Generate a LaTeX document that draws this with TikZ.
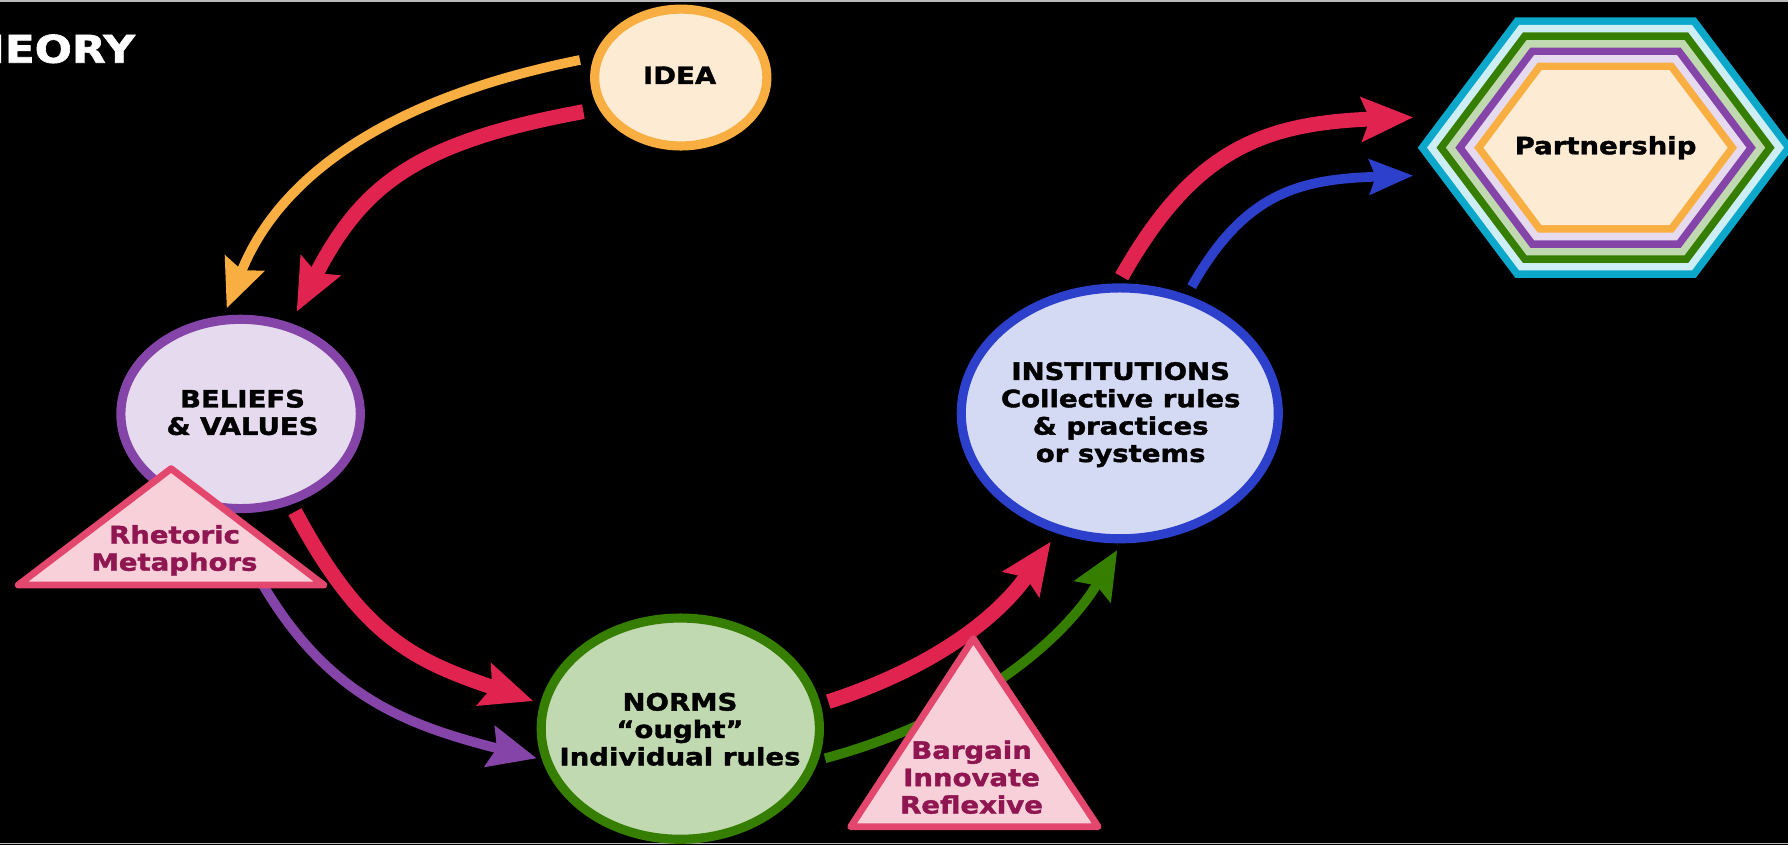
\documentclass[tikz,border=0pt]{standalone}
\usepackage{fontspec}
\setmainfont{DejaVu Sans}[FakeStretch=1.15, BoldFeatures={FakeBold=1.6}]
\usetikzlibrary{arrows.meta,shapes.geometric}
\definecolor{ideaFill}{HTML}{FDEBD4}
\definecolor{ideaLine}{HTML}{F9AE41}
\definecolor{crimson}{HTML}{E0234F}
\definecolor{purpleLine}{HTML}{8545A8}
\definecolor{lavender}{HTML}{E6DAEF}
\definecolor{greenLine}{HTML}{367E00}
\definecolor{lightGreen}{HTML}{C1D9B1}
\definecolor{blueLine}{HTML}{2C40CC}
\definecolor{lightBlue}{HTML}{D4DAF3}
\definecolor{pinkFill}{HTML}{F8D0DA}
\definecolor{pinkLine}{HTML}{E3476D}
\definecolor{pinkText}{HTML}{8F1650}
\definecolor{hexCyan}{HTML}{0CA8CB}
\definecolor{hexLightCyan}{HTML}{CEEEF6}
\newcommand\lblfont{\fontsize{21bp}{24bp}\selectfont\bfseries}
\begin{document}
\begin{tikzpicture}[x=1bp,y=-1bp,
  bubble/.style={ellipse, line width=8bp, inner sep=0pt, outer sep=0pt},
  txt/.style={align=center, font=\lblfont, inner sep=0pt, text=black},
  pinktxt/.style={txt, text=pinkText},
  tri/.style={draw=pinkLine, fill=pinkFill, line width=6bp, line join=round},
  thickarr/.style={line width=13bp, -{Stealth[length=45bp,width=38bp,inset=7bp]}},
  thinarr/.style={line width=8.5bp, -{Stealth[length=42bp,width=36bp,inset=6bp]}}]
\fill[black] (0,0) rectangle (1568,741);
\useasboundingbox (0,0) rectangle (1568,741);
\draw[gray!55, line width=1.3bp] (0,0.7) -- (1568,0.7);
\draw[gray!55, line width=1.3bp] (0,739.6) -- (1568,739.6);

% title fragment (cut by the left edge, as in the original slide)
\node[font=\fontsize{33.4bp}{36bp}\selectfont\bfseries, text=white, anchor=base east, inner sep=0pt] (theory) at (118.6,55) {THEORY};

% partnership hexagon
\begin{scope}[shift={(1408,129.5)}]
  \foreach \k/\col in {7/hexCyan,6/hexLightCyan,5/greenLine,4/lightGreen,3/purpleLine,2/lavender,1/ideaLine}{
    \draw[color=\col, line width=\k*13.2bp, line join=miter]
      (-107,0) -- (-56,-68) -- (56,-68) -- (107,0) -- (56,68) -- (-56,68) -- cycle;
  }
  \fill[ideaFill] (-107,0) -- (-56,-68) -- (56,-68) -- (107,0) -- (56,68) -- (-56,68) -- cycle;
\end{scope}
\node[txt] (part) at (1408,129.5) {Partnership};

% ellipses
\node[bubble, draw=ideaLine, fill=ideaFill, minimum width=151bp, minimum height=120bp] (idea) at (597,68) {};
\node[bubble, draw=purpleLine, fill=lavender, minimum width=210bp, minimum height=166bp] (beliefs) at (211,363) {};
\node[bubble, draw=greenLine, fill=lightGreen, minimum width=244bp, minimum height=194bp] (norms) at (596.6,639) {};
\node[bubble, draw=blueLine, fill=lightBlue, minimum width=278bp, minimum height=220bp] (inst) at (982,362.5) {};

\node[txt] (ideaT) at (596,66) {IDEA};
\node[txt] (beliefsT) at (212.7,361.7) {BELIEFS\\\& VALUES};
\node[txt] (normsT) at (596.3,639.5) {NORMS\\“ought”\\Individual rules};
\node[txt] (instT) at (982.8,363.6) {INSTITUTIONS\\Collective rules\\\& practices\\or systems};

% arrows
\draw[thinarr, ideaLine] ([shift={(-88.4,-15.4)}]idea.center) .. controls (348.6,84.6) and (246.9,149.5) .. ([shift={(-12.2,-92.6)}]beliefs.center);
\draw[thickarr, crimson] ([shift={(-85.4,29.9)}]idea.center) .. controls (364.6,124.9) and (317.7,162.1) .. ([shift={(49.2,-89.7)}]beliefs.center);
\draw[thickarr, crimson] ([shift={(47.7,85.7)}]beliefs.center) .. controls (317.5,558.7) and (363.5,579.6) .. ([shift={(-128.9,-24.2)}]norms.center);
\draw[thinarr, purpleLine] ([shift={(15,142)}]beliefs.center) .. controls (284.8,609.4) and (354.3,635.5) .. ([shift={(-125.9,26)}]norms.center);
\draw[thickarr, crimson] ([shift={(129.8,-23.7)}]norms.center) .. controls (820,585) and (875.8,540.6) .. ([shift={(-60.6,112.5)}]inst.center);
\draw[thinarr, greenLine] ([shift={(126.9,26)}]norms.center) .. controls (853.5,630) and (933.9,559.7) .. ([shift={(-2.2,119.8)}]inst.center);
\draw[thickarr, crimson] ([shift={(1.7,-119.9)}]inst.center) .. controls (1047.4,129.5) and (1109.4,108.1) .. ([shift={(-168.6,-26.6)}]part.center);
\draw[line width=8.5bp, blueLine, -{Stealth[length=38bp,width=30bp,inset=5bp]}] ([shift={(63,-111.1)}]inst.center) .. controls (1091.6,168.8) and (1139.4,157) .. ([shift={(-168.6,24.5)}]part.center);

% triangles
\draw[tri] (16,513) -- (284,513) -- (150,411) -- cycle;
\node[pinktxt] (rhet) at (153,482.7) {Rhetoric\\Metaphors};
\draw[tri] (746,725) -- (963,725) -- (853.6,560) -- cycle;
\node[pinktxt] (barg) at (852,681.6) {Bargain\\Innovate\\Reflexive};
\end{tikzpicture}
\end{document}
